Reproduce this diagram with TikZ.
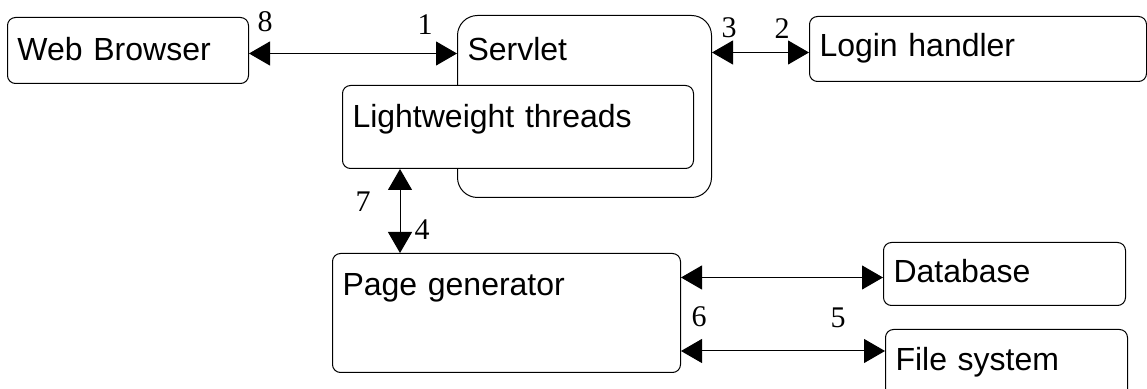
\documentclass[tikz,border=0pt]{standalone}
\usepackage{fontspec}
\setmainfont{Liberation Sans}
\newfontfamily\numfont{Liberation Serif}
\usepackage{tikz}
\usetikzlibrary{arrows.meta,positioning,calc}

\begin{document}
\begin{tikzpicture}[
    x=0.5pt, y=-0.5pt,
    >={Triangle[length=10.5pt,width=12pt]},
    box/.style={
        draw,
        line width=0.5pt,
        rounded corners=4pt,
        fill=white,
        anchor=north west,
        align=left,
        inner xsep=5pt,
        inner ysep=0pt,
        font=\fontsize{16}{19}\selectfont
    },
    biarrow/.style={<->, line width=0.5pt, black},
    num/.style={font=\numfont\fontsize{15}{17}\selectfont, inner sep=0pt}
]

\useasboundingbox (0,0) rectangle (1147,389);

% ============================================================
% Request side
% ============================================================

\node[box, text width=110.5pt, text height=21.5pt, text depth=11.5pt]
    (web) at (7,17) {Web Browser};

\node[box, rounded corners=10pt,
      text width=117pt, text height=22.5pt, text depth=68.5pt]
    (servlet) at (457,15) {Servlet};

% Drawn after the servlet so that it covers its left side
\node[box, text width=165.5pt, text height=21pt, text depth=20.5pt]
    (threads) at (342,85) {Lightweight threads};

\node[box, text width=158.5pt, text height=20pt, text depth=12.5pt]
    (login) at (809,16) {Login handler};

% ============================================================
% Page generation side
% ============================================================

\node[box, text width=164pt, text height=21pt, text depth=38.5pt]
    (pagegen) at (332,253) {Page generator};

\node[box, text width=111pt, text height=20pt, text depth=11.5pt]
    (database) at (883,242) {Database};

\node[box, text width=111pt, text height=20.5pt, text depth=14pt]
    (files) at (885,329) {File system};

% ============================================================
% Connectors
% ============================================================

\draw[biarrow]
    ([yshift=-1.5pt]web.east) -- ([yshift=-1.5pt]web.east -| servlet.west);

\draw[biarrow]
    ([yshift=-1.75pt]login.west -| servlet.east) -- ([yshift=-1.75pt]login.west);

\draw[biarrow]
    ([xshift=29pt]threads.south west) -- ([xshift=34pt]pagegen.north west);

\draw[biarrow]
    ([yshift=-1.75pt]database.west -| pagegen.east)
    -- ([yshift=-1.75pt]database.west);

\draw[biarrow]
    ([yshift=-11pt]files.north west -| pagegen.east)
    -- ([yshift=-11pt]files.north west);

% ============================================================
% Step numbers
% ============================================================

\node[num] (n1) at (425,25) {1};
\node[num] (n2) at (782,29) {2};
\node[num] (n3) at (729,28) {3};
\node[num] (n4) at (422,230) {4};
\node[num] (n5) at (838,318) {5};
\node[num] (n6) at (699,317) {6};
\node[num] (n7) at (363,202) {7};
\node[num] (n8) at (265,22) {8};

\end{tikzpicture}
\end{document}
